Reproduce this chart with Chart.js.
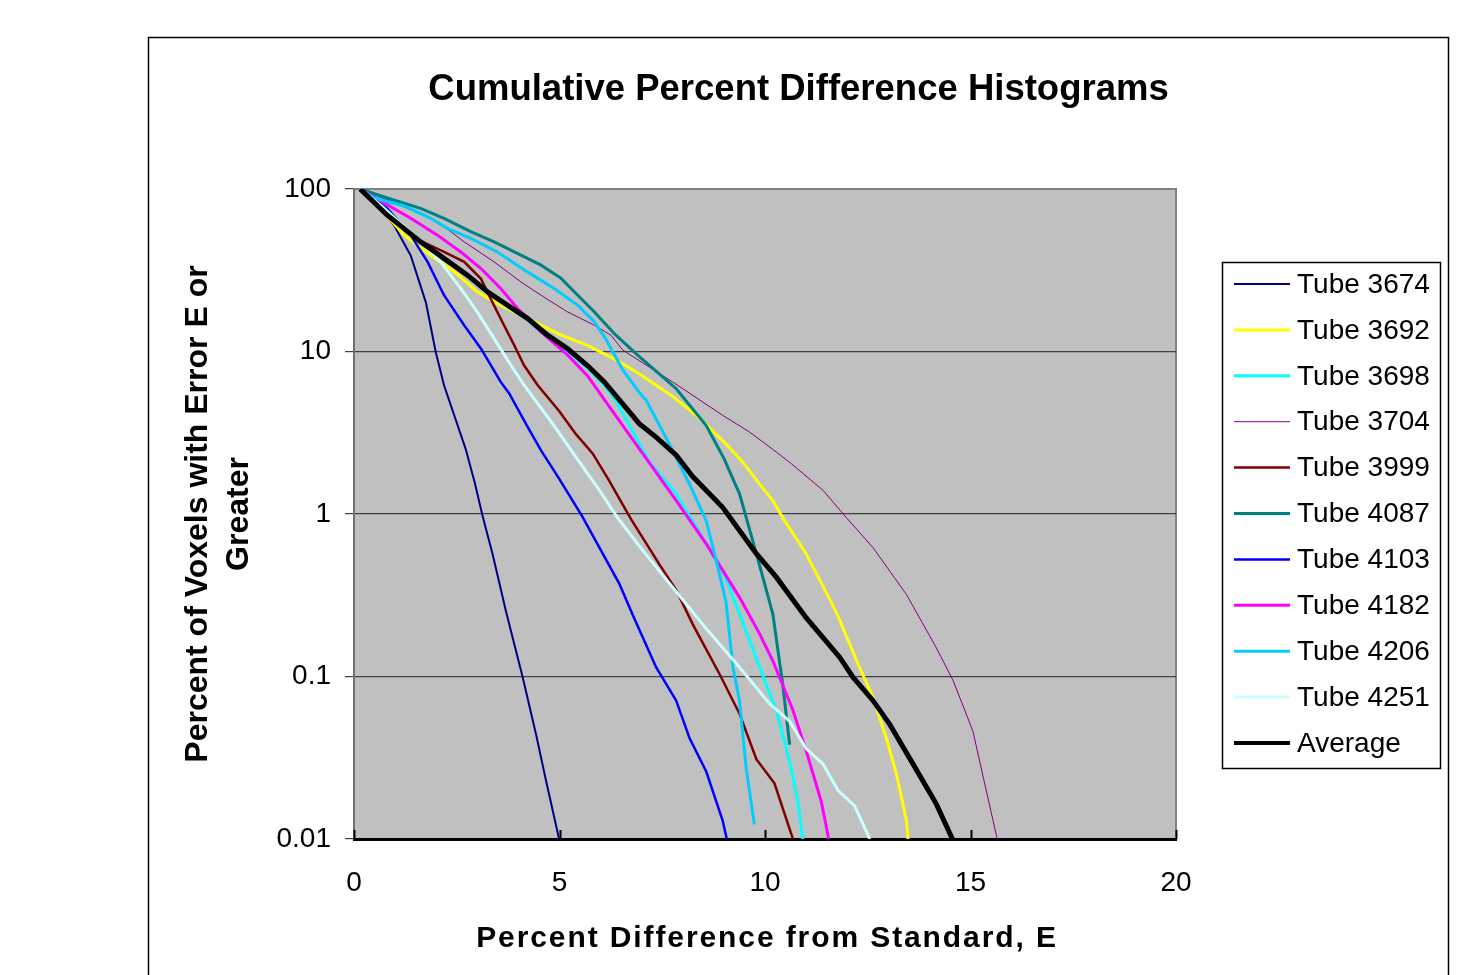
<!DOCTYPE html>
<html lang="en">
<head>
    <meta charset="UTF-8">
    <title>Cumulative Percent Difference Histograms</title>
    <script src="https://cdn.jsdelivr.net/npm/chart.js"></script>
    <style>
        html, body { margin: 0; padding: 0; background: #ffffff; }
        canvas { display: block; }
    </style>
</head>
<body>
    <canvas id="histChart" width="1471" height="975"></canvas>

    <script>
        // [E, percent] pairs
        const tube3674 = [[0.15,100],[0.49,88],[0.97,60],[1.38,39],[1.75,20],[1.99,9.9],[2.19,6.2],[2.72,2.5],[2.94,1.55],[3.13,0.97],[3.37,0.57],[3.7,0.25],[4.1,0.1],[4.43,0.044],[4.67,0.023],[4.99,0.01]];
        const tube3692 = [[0.15,100],[0.49,84],[1.22,52],[1.87,39],[2.44,31],[3.0,23.3],[3.41,20.2],[4.22,16],[5.04,12.6],[5.68,10.9],[6.33,9.0],[6.94,7.3],[7.75,5.3],[8.4,3.9],[9.05,2.7],[9.45,2.1],[9.85,1.55],[10.2,1.2],[10.43,0.95],[11.0,0.57],[11.73,0.25],[12.3,0.114],[12.63,0.074],[12.95,0.042],[13.2,0.025],[13.44,0.013],[13.48,0.01]];
        const tube3698 = [[0.15,100],[0.81,69],[1.62,47],[2.19,37],[2.76,29],[3.25,23],[3.73,19],[4.22,15.6],[4.71,12.3],[5.2,10],[5.68,7.9],[6.09,6.2],[6.37,5.0],[7.19,2.08],[7.84,1.33],[8.97,0.45],[9.38,0.243],[9.87,0.114],[10.27,0.062],[10.6,0.03],[10.8,0.017],[10.92,0.01]];
        const tube3704 = [[0.15,100],[1.0,82],[2.03,63],[2.68,47.3],[3.41,35.6],[4.06,26.8],[4.55,22.2],[5.2,17.5],[5.85,14.5],[6.25,12.6],[6.54,10.2],[7.19,8.0],[7.75,6.5],[8.97,4.05],[9.62,3.2],[10.19,2.5],[10.64,2.04],[11.41,1.4],[11.98,0.95],[12.63,0.62],[13.44,0.32],[14.17,0.15],[14.58,0.094],[15.06,0.046],[15.31,0.024],[15.65,0.01]];
        const tube3999 = [[0.15,100],[0.81,70],[1.62,48],[2.19,41],[2.68,35.6],[3.09,28],[3.33,21],[3.65,14.5],[3.9,10.9],[4.14,8.2],[4.47,6.2],[4.99,4.3],[5.4,3.1],[5.81,2.35],[6.21,1.6],[6.74,0.93],[7.43,0.49],[7.84,0.34],[8.24,0.21],[8.89,0.104],[9.38,0.059],[9.79,0.031],[10.23,0.022],[10.68,0.01]];
        const tube4087 = [[0.15,100],[0.81,88],[1.62,76],[2.19,66],[2.84,54.6],[3.41,47.3],[4.06,39.2],[4.55,34],[5.04,28.2],[5.36,23.3],[5.85,17.5],[6.33,12.9],[6.86,9.7],[7.84,5.9],[8.57,3.5],[9.0,2.2],[9.38,1.33],[9.79,0.57],[10.19,0.243],[10.43,0.09],[10.6,0.038]];
        const tube4103 = [[0.15,100],[0.45,88],[0.81,76],[1.38,52],[1.79,35.6],[2.19,22.2],[2.68,14.5],[3.09,10.4],[3.57,6.5],[3.78,5.5],[4.18,3.6],[4.55,2.46],[4.99,1.65],[5.56,0.96],[6.46,0.37],[6.78,0.24],[7.35,0.114],[7.84,0.071],[8.16,0.042],[8.57,0.026],[8.97,0.013],[9.07,0.01]];
        const tube4182 = [[0.15,100],[0.81,80],[1.38,66],[2.03,52],[2.6,41],[3.09,32.4],[3.57,24.4],[3.98,18.4],[4.55,13.2],[5.2,9.5],[5.68,7.1],[6.13,4.9],[7.0,2.4],[7.84,1.21],[8.57,0.655],[9.38,0.307],[9.87,0.183],[10.19,0.125],[10.68,0.062],[11.0,0.035],[11.37,0.017],[11.55,0.01]];
        const tube4206 = [[0.15,100],[0.49,88],[1.26,78],[1.87,66],[2.27,57.3],[2.84,49.7],[3.49,41],[4.22,30.9],[4.87,24.4],[5.44,19.3],[5.85,15.2],[6.13,11.9],[6.54,7.7],[6.94,5.6],[7.11,5.0],[7.67,2.7],[8.16,1.53],[8.57,0.91],[8.81,0.52],[9.05,0.29],[9.22,0.114],[9.38,0.071],[9.54,0.0275],[9.74,0.0123]];
        const tube4251 = [[0.15,100],[0.69,78],[1.62,47.3],[2.11,35.6],[2.6,24.4],[3.0,17.5],[3.41,12],[3.82,8.2],[4.14,6.2],[4.83,3.6],[5.4,2.24],[5.97,1.4],[6.41,0.95],[7.02,0.6],[7.75,0.354],[8.57,0.197],[9.38,0.114],[10.11,0.068],[10.6,0.053],[11.0,0.036],[11.41,0.029],[11.77,0.02],[12.18,0.016],[12.55,0.01]];
        const average  = [[0.15,100],[0.81,69],[1.62,47.3],[2.19,37.4],[2.76,29.5],[3.25,23.3],[3.73,19.3],[4.22,16],[4.71,12.6],[5.2,10.4],[5.68,8.2],[6.09,6.5],[6.94,3.6],[7.35,2.97],[7.84,2.3],[8.24,1.7],[8.97,1.1],[9.79,0.57],[10.27,0.41],[11.0,0.23],[11.82,0.131],[12.14,0.099],[12.63,0.071],[13.03,0.051],[13.6,0.029],[14.17,0.0164],[14.56,0.01]];

        const seriesNames = ['Tube 3674', 'Tube 3692', 'Tube 3698', 'Tube 3704', 'Tube 3999', 'Tube 4087', 'Tube 4103', 'Tube 4182', 'Tube 4206', 'Tube 4251', 'Average'];
        const seriesData = [tube3674, tube3692, tube3698, tube3704, tube3999, tube4087, tube4103, tube4182, tube4206, tube4251, average];
        const seriesColors = ['#000080', '#FFFF00', '#00FFFF', '#800080', '#800000', '#008080', '#0000FF', '#FF00FF', '#00CCFF', '#CCFFFF', '#000000'];
        const seriesWidths = [2, 3, 3, 1, 2.5, 3, 2.5, 3, 3, 3, 5];

        const xTicks = [0, 5, 10, 15, 20];
        const yTicks = [0.01, 0.1, 1, 10, 100];
        const yTickLabels = ['0.01', '0.1', '1', '10', '100'];

        const FONT = "'Liberation Sans', Arial, sans-serif";

        const datasets = seriesNames.map((name, i) => ({
            label: name,
            data: seriesData[i].map(p => ({ x: p[0], y: p[1] })),
            borderColor: seriesColors[i],
            backgroundColor: seriesColors[i],
            borderWidth: seriesWidths[i],
            pointRadius: 0,
            tension: 0,
            fill: false,
            order: seriesNames.length - i   // later series drawn on top, like the original
        }));

        // frame, plot background, title, x title, inner x ticks and legend
        const decorations = {
            id: 'decorations',
            beforeDraw(chart) {
                const ctx = chart.ctx;
                const a = chart.chartArea;
                ctx.save();
                ctx.fillStyle = '#ffffff';
                ctx.fillRect(0, 0, chart.width, chart.height);
                ctx.strokeStyle = '#000000';
                ctx.lineWidth = 1.5;
                ctx.strokeRect(148.5, 37.5, 1300, 1000);
                ctx.fillStyle = '#C0C0C0';
                ctx.fillRect(a.left, a.top, a.right - a.left, a.bottom - a.top);
                ctx.strokeStyle = '#808080';
                ctx.lineWidth = 2;
                ctx.beginPath();
                ctx.moveTo(a.left, a.top);
                ctx.lineTo(a.right, a.top);
                ctx.lineTo(a.right, a.bottom);
                ctx.stroke();
                ctx.restore();
            },
            afterDraw(chart) {
                const ctx = chart.ctx;
                const a = chart.chartArea;
                const xs = chart.scales.x;
                ctx.save();

                // inward tick marks on the x axis
                ctx.strokeStyle = '#000000';
                ctx.lineWidth = 2;
                xTicks.forEach(v => {
                    const px = Math.round(xs.getPixelForValue(v)) + 0.5;
                    ctx.beginPath();
                    ctx.moveTo(px, a.bottom);
                    ctx.lineTo(px, a.bottom - 9);
                    ctx.stroke();
                });

                ctx.fillStyle = '#000000';
                ctx.textAlign = 'center';
                ctx.textBaseline = 'middle';
                ctx.font = 'bold 36.5px ' + FONT;
                ctx.fillText('Cumulative Percent Difference Histograms', 798.5, 90);

                ctx.font = 'bold 30px ' + FONT;
                ctx.letterSpacing = '1.9px';
                ctx.fillText('Percent Difference from Standard, E', (a.left + a.right) / 2 + 2, 939);
                ctx.letterSpacing = '0px';

                // legend
                const lx = 1222, ly = 262, lw = 218, lh = 506;
                ctx.fillStyle = '#ffffff';
                ctx.fillRect(lx, ly, lw, lh);
                ctx.strokeStyle = '#000000';
                ctx.lineWidth = 1.5;
                ctx.strokeRect(lx + 0.5, ly + 0.5, lw, lh);
                ctx.font = '28px ' + FONT;
                ctx.textAlign = 'left';
                chart.data.datasets.forEach((ds, i) => {
                    const y = 284 + i * 45.9;
                    ctx.strokeStyle = ds.borderColor;
                    ctx.lineWidth = Math.min(ds.borderWidth, 4);
                    ctx.beginPath();
                    ctx.moveTo(1234, y);
                    ctx.lineTo(1290, y);
                    ctx.stroke();
                    ctx.fillStyle = '#000000';
                    ctx.fillText(ds.label, 1297, y + 1);
                });
                ctx.restore();
            }
        };

        const ctx = document.getElementById('histChart').getContext('2d');
        new Chart(ctx, {
            type: 'line',
            data: { datasets: datasets },
            options: {
                responsive: false,
                animation: false,
                layout: { padding: { left: 148, right: 295, top: 189, bottom: 0 } },
                plugins: {
                    legend: { display: false },
                    title: { display: false },
                    tooltip: { enabled: false }
                },
                scales: {
                    x: {
                        type: 'linear',
                        min: 0,
                        max: 20,
                        afterFit: s => { s.height = 136; },
                        afterBuildTicks: s => { s.ticks = xTicks.map(v => ({ value: v })); },
                        grid: { display: false },
                        border: { display: true, color: '#000000', width: 3 },
                        ticks: {
                            color: '#000000',
                            padding: 19,
                            font: { family: FONT, size: 28 },
                            maxRotation: 0
                        }
                    },
                    y: {
                        type: 'logarithmic',
                        min: 0.01,
                        max: 100,
                        afterFit: s => { s.width = 206; },
                        afterBuildTicks: s => { s.ticks = yTicks.map(v => ({ value: v })); },
                        grid: {
                            color: ctx => ctx.tick && ctx.tick.value === 100 ? '#808080' : '#404040',
                            lineWidth: 1.2,
                            drawTicks: true,
                            tickLength: 9,
                            tickColor: '#404040'
                        },
                        border: { display: true, color: '#707070', width: 2 },
                        ticks: {
                            color: '#000000',
                            padding: 14,
                            font: { family: FONT, size: 28 },
                            callback: v => yTickLabels[yTicks.indexOf(v)]
                        },
                        title: {
                            display: true,
                            text: ['Percent of Voxels with Error E or', 'Greater'],
                            color: '#000000',
                            font: { family: FONT, size: 32, weight: 'bold', lineHeight: 1.3 },
                            padding: { top: 29, bottom: 0 }
                        }
                    }
                }
            },
            plugins: [decorations]
        });
    </script>
</body>
</html>
